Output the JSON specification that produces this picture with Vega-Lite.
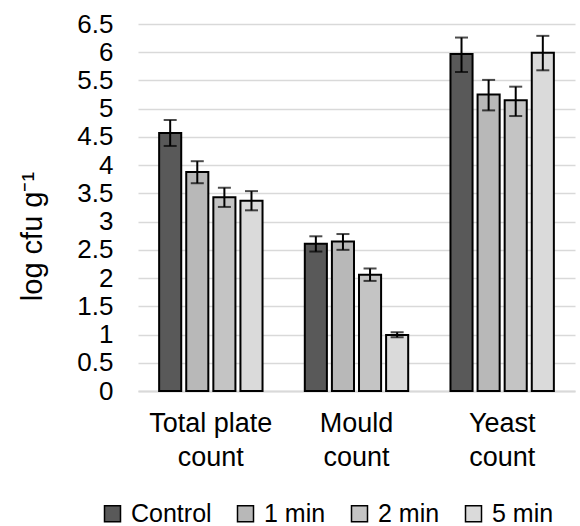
{
  "$schema": "https://vega.github.io/schema/vega-lite/v6.json",
  "width": 437,
  "height": 367,
  "autosize": "none",
  "padding": {"left": 138, "top": 24, "right": 5, "bottom": 135},
  "config": {
    "font": "Liberation Sans",
    "view": {"stroke": null},
    "axisY": {
      "labelOverlap": false,
      "labelBound": false,
      "labelFlush": false,
      "labelFontSize": 26,
      "labelColor": "#000000",
      "labelPadding": 25,
      "ticks": false,
      "domain": false,
      "grid": true,
      "gridColor": "#d9d9d9",
      "gridWidth": 1.5,
      "titleFontSize": 29,
      "titleFontWeight": "normal",
      "titleColor": "#000000",
      "titlePadding": 29
    }
  },
  "data": {
    "values": [
      {"group": "Total plate count", "series": "Control", "value": 4.57, "lo": 4.34, "hi": 4.80},
      {"group": "Total plate count", "series": "1 min", "value": 3.88, "lo": 3.68, "hi": 4.07},
      {"group": "Total plate count", "series": "2 min", "value": 3.43, "lo": 3.26, "hi": 3.60},
      {"group": "Total plate count", "series": "5 min", "value": 3.37, "lo": 3.20, "hi": 3.54},
      {"group": "Mould count", "series": "Control", "value": 2.61, "lo": 2.47, "hi": 2.74},
      {"group": "Mould count", "series": "1 min", "value": 2.65, "lo": 2.50, "hi": 2.78},
      {"group": "Mould count", "series": "2 min", "value": 2.06, "lo": 1.95, "hi": 2.17},
      {"group": "Mould count", "series": "5 min", "value": 0.99, "lo": 0.95, "hi": 1.04},
      {"group": "Yeast count", "series": "Control", "value": 5.97, "lo": 5.65, "hi": 6.26},
      {"group": "Yeast count", "series": "1 min", "value": 5.25, "lo": 4.97, "hi": 5.51},
      {"group": "Yeast count", "series": "2 min", "value": 5.15, "lo": 4.87, "hi": 5.39},
      {"group": "Yeast count", "series": "5 min", "value": 5.99, "lo": 5.68, "hi": 6.29}
    ]
  },
  "encoding": {
    "x": {
      "field": "group",
      "type": "nominal",
      "sort": ["Total plate count", "Mould count", "Yeast count"],
      "scale": {"paddingInner": 0, "paddingOuter": 0},
      "axis": {
        "title": null,
        "labelExpr": "datum.label == 'Total plate count' ? ['Total plate', 'count'] : split(datum.label, ' ')",
        "labelFontSize": 27,
        "labelColor": "#000000",
        "labelPadding": 19,
        "labelLineHeight": 34,
        "labelAngle": 0,
        "ticks": false,
        "domainColor": "#d9d9d9",
        "domainWidth": 2
      }
    },
    "xOffset": {
      "field": "series",
      "type": "nominal",
      "sort": ["Control", "1 min", "2 min", "5 min"],
      "scale": {"paddingInner": 0.185, "paddingOuter": 0.78}
    }
  },
  "layer": [
    {
      "mark": {"type": "bar", "stroke": "#000000", "strokeWidth": 2},
      "encoding": {
        "y": {
          "field": "value",
          "type": "quantitative",
          "scale": {"domain": [0, 6.5], "nice": false},
          "axis": {
            "values": [0, 0.5, 1, 1.5, 2, 2.5, 3, 3.5, 4, 4.5, 5, 5.5, 6, 6.5],
            "format": "~g",
            "title": "log cfu g⁻¹",
            "titleY": 212
          }
        },
        "fill": {
          "field": "series",
          "type": "nominal",
          "sort": ["Control", "1 min", "2 min", "5 min"],
          "scale": {"range": ["#595959", "#b8b8b8", "#c4c4c4", "#dadada"]},
          "legend": {
            "orient": "none",
            "legendX": -38,
            "legendY": 477,
            "direction": "horizontal",
            "title": null,
            "labelFontSize": 25,
            "labelColor": "#000000",
            "symbolType": "square",
            "symbolSize": 256,
            "symbolStrokeColor": "#000000",
            "symbolStrokeWidth": 1.5,
            "labelOffset": 6,
            "columnPadding": 21
          }
        }
      }
    },
    {
      "mark": {"type": "rule", "strokeWidth": 2, "color": "#000000"},
      "encoding": {
        "y": {
          "field": "lo",
          "type": "quantitative",
          "axis": {
            "values": [0, 0.5, 1, 1.5, 2, 2.5, 3, 3.5, 4, 4.5, 5, 5.5, 6, 6.5],
            "format": "~g",
            "title": "log cfu g⁻¹",
            "titleY": 212
          }
        },
        "y2": {"field": "hi"}
      }
    },
    {
      "mark": {"type": "tick", "thickness": 2, "size": 13, "color": "#000000"},
      "encoding": {
        "y": {
          "field": "lo",
          "type": "quantitative",
          "axis": {
            "values": [0, 0.5, 1, 1.5, 2, 2.5, 3, 3.5, 4, 4.5, 5, 5.5, 6, 6.5],
            "format": "~g",
            "title": "log cfu g⁻¹",
            "titleY": 212
          }
        }
      }
    },
    {
      "mark": {"type": "tick", "thickness": 2, "size": 13, "color": "#000000"},
      "encoding": {
        "y": {
          "field": "hi",
          "type": "quantitative",
          "axis": {
            "values": [0, 0.5, 1, 1.5, 2, 2.5, 3, 3.5, 4, 4.5, 5, 5.5, 6, 6.5],
            "format": "~g",
            "title": "log cfu g⁻¹",
            "titleY": 212
          }
        }
      }
    }
  ]
}
